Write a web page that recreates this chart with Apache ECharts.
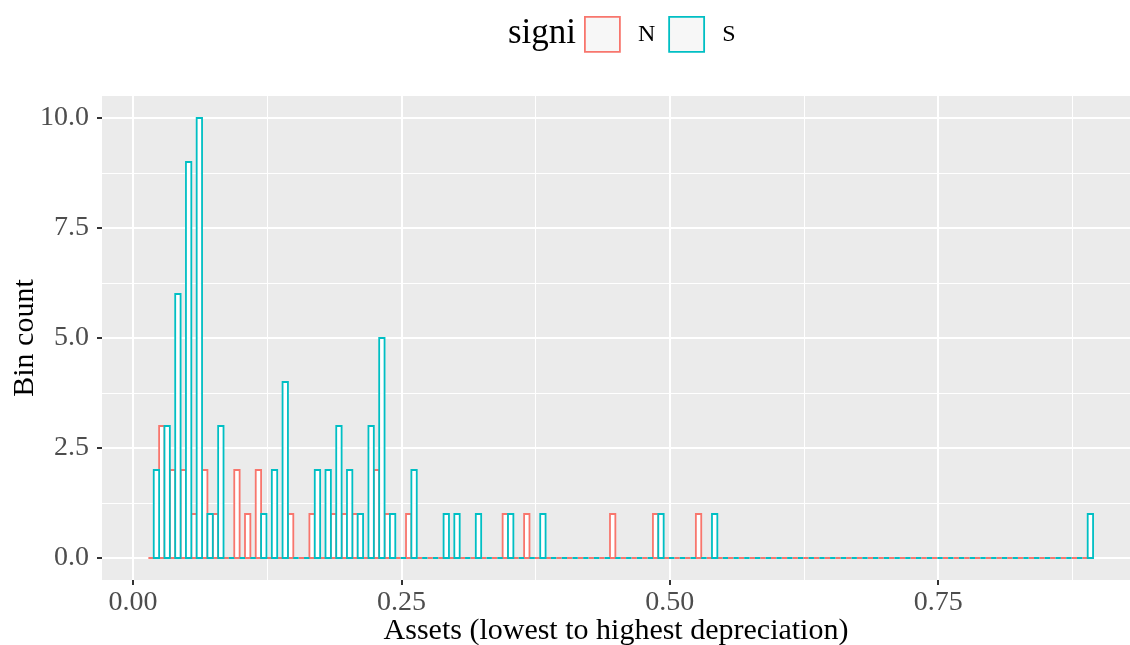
<!DOCTYPE html>
<html>
<head>
<meta charset="utf-8">
<script src="https://cdn.jsdelivr.net/npm/echarts@6/dist/echarts.min.js"></script>
<style>
  html, body { margin: 0; padding: 0; background: #ffffff; }
  #chart { width: 1130px; height: 645px; }
</style>
</head>
<body>
<div id="chart"></div>
<script>
// Histogram of assets ordered by depreciation, dodged by significance group.
const binStart = 0.0143;   // left edge of the first bin
const binWidth = 0.01;     // width of one bin (each group takes half)

const groups = ['N', 'S'];

// Bin counts, 88 bins from binStart
const countsN = [
  0, 3, 2, 2, 1, 2, 1, 0, 2, 1,
  2, 0, 0, 1, 0, 1, 0, 1, 1, 1,
  0, 2, 1, 0, 1, 0, 0, 0, 0, 0,
  0, 0, 0, 1, 0, 1, 0, 0, 0, 0,
  0, 0, 0, 1, 0, 0, 0, 1, 0, 0,
  0, 1, 0, 0, 0, 0, 0, 0, 0, 0,
  0, 0, 0, 0, 0, 0, 0, 0, 0, 0,
  0, 0, 0, 0, 0, 0, 0, 0, 0, 0,
  0, 0, 0, 0, 0, 0, 0, 0
];
const countsS = [
  2, 3, 6, 9, 10, 1, 3, 0, 0, 0,
  1, 2, 4, 0, 0, 2, 2, 3, 2, 1,
  3, 5, 1, 0, 2, 0, 0, 1, 1, 0,
  1, 0, 0, 1, 0, 0, 1, 0, 0, 0,
  0, 0, 0, 0, 0, 0, 0, 1, 0, 0,
  0, 0, 1, 0, 0, 0, 0, 0, 0, 0,
  0, 0, 0, 0, 0, 0, 0, 0, 0, 0,
  0, 0, 0, 0, 0, 0, 0, 0, 0, 0,
  0, 0, 0, 0, 0, 0, 0, 1
];

const xMajorTicks = [0, 0.25, 0.5, 0.75];
const xMinorTicks = [0.125, 0.375, 0.625, 0.875];
const yMajorTicks = [0, 2.5, 5, 7.5, 10];
const yMinorTicks = [1.25, 3.75, 6.25, 8.75];

const xRange = [-0.0289, 0.9287];
const yRange = [-0.5, 10.5];

const groupColors = ['#F8766D', '#00BFC4'];
const serif = '"Liberation Serif", "DejaVu Serif", serif';

const chart = echarts.init(document.getElementById('chart'), null, { renderer: 'canvas' });

function histSeries(gi, counts) {
  return {
    type: 'custom',
    name: groups[gi],
    xAxisIndex: 0,
    yAxisIndex: 0,
    data: counts.map((c, i) => [binStart + i * binWidth, c]),
    encode: { x: 0, y: 1 },
    renderItem: function (params, api) {
      const left = api.value(0) + gi * binWidth / 2;
      const right = left + binWidth / 2;
      const p0 = api.coord([left, 0]);
      const p1 = api.coord([right, api.value(1)]);
      return {
        type: 'rect',
        shape: { x: p0[0], y: p1[1], width: p1[0] - p0[0], height: p0[1] - p1[1] },
        style: { fill: '#ffffff', stroke: groupColors[gi], lineWidth: 1.8 }
      };
    }
  };
}

function valueAxis(range, extra) {
  return Object.assign({
    type: 'value',
    min: range[0],
    max: range[1],
    nameMoveOverlap: false,
    axisLine: { show: false, onZero: false }
  }, extra);
}

const option = {
  animation: false,
  backgroundColor: '#ffffff',
  title: {
    text: 'signi',
    left: 508,
    top: 16,
    padding: 0,
    textStyle: { fontFamily: serif, fontSize: 35, fontWeight: 'normal', color: '#000000' }
  },
  legend: {
    left: 584,
    top: 16,
    padding: 0,
    orient: 'horizontal',
    itemWidth: 35,
    itemHeight: 35,
    itemGap: 13,
    selectedMode: false,
    data: groups.map((g, i) => ({
      name: g,
      icon: 'rect',
      itemStyle: { color: '#F7F7F7', borderColor: groupColors[i], borderWidth: 1.8 }
    })),
    textStyle: { fontFamily: serif, fontSize: 24, color: '#000000', padding: [0, 0, 0, 13] }
  },
  grid: {
    left: 102,
    right: 0,
    top: 96,
    bottom: 65,
    outerBoundsMode: 'none',
    containLabel: false,
    show: true,
    backgroundColor: '#EBEBEB',
    borderWidth: 0
  },
  xAxis: [
    valueAxis(xRange, {
      name: 'Assets (lowest to highest depreciation)',
      nameLocation: 'middle',
      nameGap: 36,
      nameTextStyle: { fontFamily: serif, fontSize: 30, color: '#000000' },
      axisTick: { show: true, customValues: xMajorTicks, length: 5, lineStyle: { color: '#333333', width: 2 } },
      axisLabel: {
        customValues: xMajorTicks,
        margin: 9,
        formatter: v => v.toFixed(2),
        fontFamily: serif, fontSize: 28, color: '#4D4D4D'
      },
      splitLine: { show: true, lineStyle: { color: '#ffffff', width: 2 } }
    }),
    valueAxis(xRange, {
      axisTick: { show: false, customValues: xMinorTicks },
      axisLabel: { show: false, customValues: xMinorTicks },
      splitLine: { show: true, lineStyle: { color: '#ffffff', width: 1 } }
    })
  ],
  yAxis: [
    valueAxis(yRange, {
      name: 'Bin count',
      nameLocation: 'middle',
      nameGap: 62,
      nameTextStyle: { fontFamily: serif, fontSize: 30, color: '#000000' },
      axisTick: { show: true, customValues: yMajorTicks, length: 5, lineStyle: { color: '#333333', width: 2 } },
      axisLabel: {
        customValues: yMajorTicks,
        margin: 13,
        formatter: v => v.toFixed(1),
        fontFamily: serif, fontSize: 28, color: '#4D4D4D'
      },
      splitLine: { show: true, lineStyle: { color: '#ffffff', width: 2 } }
    }),
    valueAxis(yRange, {
      axisTick: { show: false, customValues: yMinorTicks },
      axisLabel: { show: false, customValues: yMinorTicks },
      splitLine: { show: true, lineStyle: { color: '#ffffff', width: 1 } }
    })
  ],
  series: [histSeries(0, countsN), histSeries(1, countsS)]
};

chart.setOption(option);
</script>
</body>
</html>
